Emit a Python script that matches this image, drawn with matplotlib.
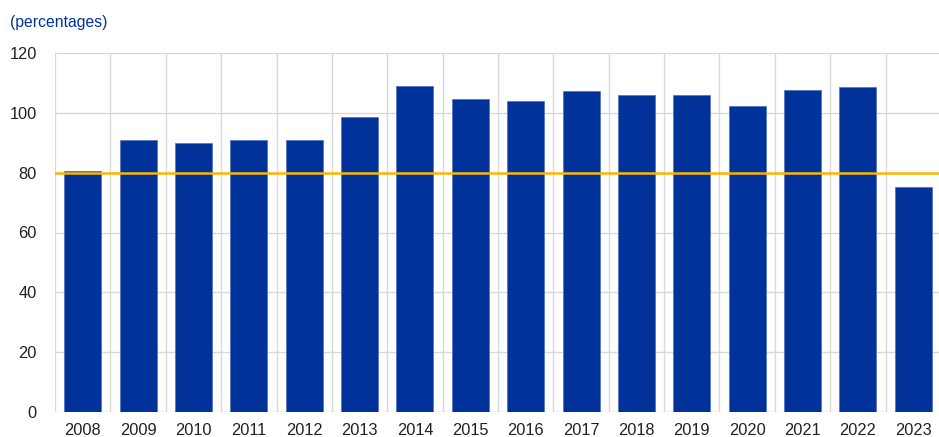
import numpy as np
import matplotlib
matplotlib.use("Agg")
import matplotlib.pyplot as plt

plt.rcParams["font.family"] = ["Liberation Sans", "DejaVu Sans"]

# annual ratio, percentages
years = ["2008", "2009", "2010", "2011", "2012", "2013", "2014", "2015",
         "2016", "2017", "2018", "2019", "2020", "2021", "2022", "2023"]
values = [80.7, 91.0, 90.0, 91.0, 91.0, 98.7, 109.0, 104.7,
          104.0, 107.4, 106.0, 106.0, 102.3, 107.7, 108.5, 75.2]
threshold = 80

BLUE = "#003299"
ORANGE = "#ffb400"
GRID = "#d9d9d9"
TEXT = "#222222"

fig = plt.figure(figsize=(9.39, 4.37), dpi=100)
ax = fig.add_axes([55 / 939, 25 / 437, 886 / 939, 359 / 437])

x = np.arange(len(years))
ax.bar(x, values, width=0.67, color=BLUE, edgecolor="#4d6fc0",
       linewidth=0.5, zorder=3)
ax.axhline(threshold, color=ORANGE, lw=1.8, zorder=4)

ax.set_xlim(-0.5, len(years) - 0.5)
ax.set_ylim(0, 120)
ax.set_yticks(np.arange(0, 121, 20))
ax.set_xticks(x)
ax.set_xticklabels(years)
ax.set_xticks(np.arange(-0.5, len(years), 1), minor=True)

ax.grid(axis="y", which="major", color=GRID, lw=1, zorder=0)
ax.grid(axis="x", which="minor", color=GRID, lw=1, zorder=0)
ax.tick_params(axis="both", which="both", length=0, labelsize=11.8,
               labelcolor=TEXT)
ax.tick_params(axis="y", pad=13)
ax.tick_params(axis="x", pad=8)
for s in ax.spines.values():
    s.set_visible(False)

fig.text(10 / 939, 1 - 22 / 437, "(percentages)", color=BLUE, fontsize=11.3,
         ha="left", va="center")

fig.savefig("out.png", dpi=100, facecolor="white")
